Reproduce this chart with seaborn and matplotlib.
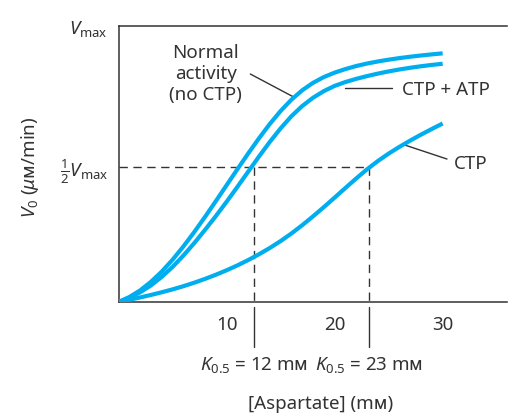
import numpy as np
import pandas as pd
import matplotlib
matplotlib.use("Agg")
import matplotlib.pyplot as plt
import seaborn as sns

# [Aspartate] (mM) and V0 as a fraction of Vmax
aspartate = list(range(0, 31))
normal = [0, 0.018, 0.042, 0.073, 0.110, 0.153, 0.201, 0.253, 0.308, 0.365, 0.423,
          0.481, 0.538, 0.593, 0.645, 0.692, 0.733, 0.767, 0.794, 0.815, 0.831,
          0.844, 0.855, 0.864, 0.8715, 0.878, 0.8837, 0.8887, 0.8932, 0.8972, 0.9009]
ctp_atp = [0, 0.015, 0.035, 0.06, 0.091, 0.127, 0.168, 0.213, 0.261, 0.311, 0.363,
           0.417, 0.472, 0.527, 0.58, 0.629, 0.673, 0.71, 0.74, 0.764, 0.783,
           0.797, 0.8085, 0.8185, 0.8275, 0.8355, 0.8425, 0.8487, 0.8542, 0.859, 0.8632]
ctp = [0, 0.008, 0.0165, 0.0255, 0.0352, 0.0457, 0.0572, 0.0698, 0.0836, 0.0986, 0.1149,
       0.1326, 0.1519, 0.1729, 0.1957, 0.2207, 0.2482, 0.2782, 0.3102, 0.3437, 0.3782,
       0.4132, 0.4477, 0.4807, 0.5107, 0.5377, 0.5622, 0.585, 0.6065, 0.627, 0.6468]

half_vmax = 0.49
k_positions = [12.5, 23.2]
k_labels = [r"$K_{0.5}$ = 12 mᴍ", r"$K_{0.5}$ = 23 mᴍ"]
x_ticks = [10, 20, 30]

BLUE = "#00aeef"
INK = "#333333"

sns.set_theme(style="white")
plt.rcParams["font.family"] = ["Noto Sans", "DejaVu Sans"]
plt.rcParams["mathtext.fontset"] = "custom"
plt.rcParams["mathtext.rm"] = "Noto Sans"
plt.rcParams["mathtext.it"] = "Noto Sans:italic"
plt.rcParams["text.color"] = INK

W, H = 509, 414
fig = plt.figure(figsize=(W / 100, H / 100), dpi=100)
ax = fig.add_axes([118.5 / W, 1 - 303 / H, 389 / W, 276 / H])

df = pd.DataFrame({"x": aspartate, "normal": normal, "ctp_atp": ctp_atp, "ctp": ctp})
for col in ["normal", "ctp_atp", "ctp"]:
    sns.lineplot(data=df, x="x", y=col, color=BLUE, lw=3, ax=ax, zorder=3,
                 solid_capstyle="butt", solid_joinstyle="round")

# dashed guides for 1/2 Vmax and K0.5
ax.plot([0, k_positions[1]], [half_vmax, half_vmax], color=INK, lw=1,
        dashes=(6, 4), zorder=2)
for k in k_positions:
    ax.plot([k, k], [half_vmax, 0], color=INK, lw=1, dashes=(6, 4), zorder=2)
    ax.plot([k, k], [-0.018, -0.163], color=INK, lw=1, clip_on=False)

ax.set_xlim(0, 36)
ax.set_ylim(0, 1)
ax.set_xticks(x_ticks)
ax.set_xticklabels([str(t) for t in x_ticks])
ax.set_yticks([half_vmax, 1.0])
ax.set_yticklabels([r"$\frac{1}{2}V_{\mathrm{max}}$", r"$V_{\mathrm{max}}$"])
ax.tick_params(axis="x", direction="in", length=7, width=1, color=INK,
               pad=9, labelsize=13.5, labelcolor=INK)
ax.tick_params(axis="y", length=0, pad=7.5, labelsize=13.5, labelcolor=INK)
ax.set_xlabel("")
ax.set_ylabel("")
for side in ["left", "bottom", "top"]:
    ax.spines[side].set_color(INK)
    ax.spines[side].set_linewidth(1.1)
ax.spines["right"].set_visible(False)

# curve labels and leader lines
ax.text(8.06, 0.83, "Normal\nactivity\n(no CTP)", ha="center", va="center",
        fontsize=13.5, linespacing=1.2)
ax.plot([12.2, 16.1], [0.826, 0.745], color=INK, lw=1, clip_on=False)
ax.text(26.2, 0.772, "CTP + ATP", ha="left", va="center", fontsize=13.5)
ax.plot([21.0, 25.3], [0.775, 0.775], color=INK, lw=1, clip_on=False)
ax.text(31.0, 0.504, "CTP", ha="left", va="center", fontsize=13.5)
ax.plot([26.4, 30.4], [0.57, 0.518], color=INK, lw=1, clip_on=False)

for k, lab in zip(k_positions, k_labels):
    ax.text(k, -0.225, lab, ha="center", va="center", fontsize=13.5,
            clip_on=False)

fig.text(321 / W, 1 - 404 / H, "[Aspartate] (mᴍ)", ha="center", va="center",
         fontsize=13.5)
fig.text(30 / W, 1 - 167 / H, r"$V_0$ ($\mu$ᴍ/min)", ha="center",
         va="center", rotation=90, fontsize=13.5)

fig.savefig("out.png", dpi=100)
